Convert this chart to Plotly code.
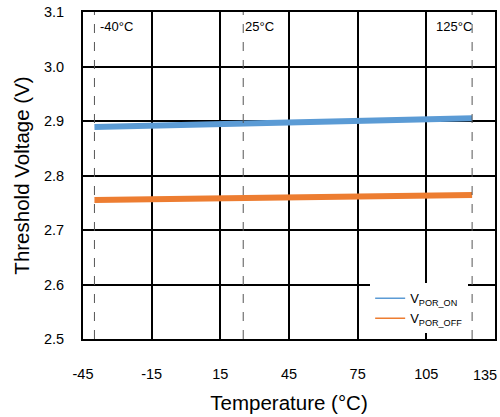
import plotly.graph_objects as go

temps = [-40, 25, 125]
v_por_on = [2.889, 2.896, 2.905]
v_por_off = [2.755, 2.759, 2.764]
marker_temps = [-40, 25, 125]
marker_labels = ["-40°C", "25°C", "125°C"]
x_ticks = [-45, -15, 15, 45, 75, 105, 135]
x_tick_text = ["-45", "-15", "15", "45", "75", "105", "135"]
y_ticks = [2.5, 2.6, 2.7, 2.8, 2.9, 3.0, 3.1]

BLUE = "#5B9BD5"
ORANGE = "#ED7D31"
FONT = "Liberation Sans, Arial, sans-serif"

fig = go.Figure()
fig.add_trace(go.Scatter(x=temps, y=v_por_on, mode="lines",
                         line=dict(color=BLUE, width=6), showlegend=False))
fig.add_trace(go.Scatter(x=temps, y=v_por_off, mode="lines",
                         line=dict(color=ORANGE, width=6), showlegend=False))
# legend entries (thin lines as in the reference)
fig.add_trace(go.Scatter(x=[None], y=[None], mode="lines", name="V<sub>POR_ON</sub>",
                         line=dict(color=BLUE, width=1.5), xaxis="x2"))
fig.add_trace(go.Scatter(x=[None], y=[None], mode="lines", name="V<sub>POR_OFF</sub>",
                         line=dict(color=ORANGE, width=1.5), xaxis="x2"))

shifts = {-40: 4, 25: 0, 125: 2}
for t, lab in zip(marker_temps, marker_labels):
    fig.add_shape(type="line", x0=t, x1=t, y0=y_ticks[0], y1=y_ticks[-1],
                  xref="x", yref="y", line=dict(color="#555555", width=1, dash="dash"),
                  layer="above")
    anchor = "right" if t == marker_temps[-1] else "left"
    fig.add_annotation(x=t, y=y_ticks[-1], text=lab, showarrow=False,
                       xanchor=anchor, yanchor="top", xshift=shifts[t], yshift=-5,
                       font=dict(family=FONT, size=13, color="black"))

fig.update_layout(
    width=500, height=417,
    margin=dict(l=83, r=5, t=12, b=78, autoexpand=False),
    paper_bgcolor="white", plot_bgcolor="white",
    font=dict(family=FONT, color="black"),
    legend=dict(x=0.697, y=0.17, xanchor="left", yanchor="top",
                bgcolor="white", font=dict(family=FONT, size=13, color="black"),
                tracegroupgap=0, itemwidth=30, traceorder="normal"),
    # secondary copy of the x axis carrying only the last label, nudged left
    xaxis2=dict(overlaying="x", matches="x", anchor="y", side="bottom",
                range=[x_ticks[0], x_ticks[-1]],
                tickvals=[x_ticks[-1]], ticktext=[x_tick_text[-1]],
                ticklabelshift=-10, ticklabelstandoff=25, ticklabeloverflow="allow",
                showgrid=False, showline=False, zeroline=False, ticks="",
                automargin=False, tickfont=dict(size=14.5)),
)
fig.layout.xaxis.update(range=[x_ticks[0], x_ticks[-1]], tickvals=x_ticks,
                        ticktext=x_tick_text[:-1] + [""],
                        automargin=False,
                        showgrid=True, gridcolor="black", gridwidth=2,
                        showline=True, linecolor="black", linewidth=2, mirror=True,
                        zeroline=False, ticks="", ticklabelstandoff=21,
                        tickfont=dict(size=14.5),
                        title=dict(text="Temperature (°C)", font=dict(size=20.5), standoff=14))
fig.layout.yaxis.update(range=[y_ticks[0], y_ticks[-1]], tickvals=y_ticks,
                        automargin=False,
                        tickformat=".1f",
                        showgrid=True, gridcolor="black", gridwidth=2,
                        showline=True, linecolor="black", linewidth=2, mirror=True,
                        zeroline=False, ticks="", ticklabelstandoff=14,
                        tickfont=dict(size=14.5),
                        title=dict(text="Threshold Voltage (V)", font=dict(size=20.5), standoff=9))

fig.write_html("out.html")
